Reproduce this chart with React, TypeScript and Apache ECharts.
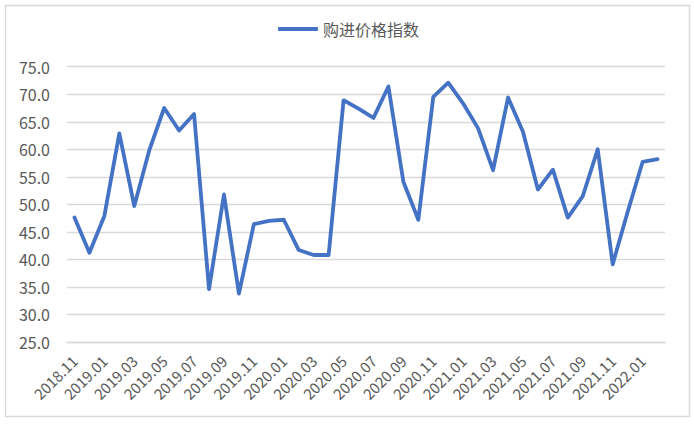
import React, { useEffect, useRef } from "react";
import * as echarts from "echarts";

const categories: string[] = [
  "2018.11", "2018.12",
  "2019.01", "2019.02", "2019.03", "2019.04", "2019.05", "2019.06",
  "2019.07", "2019.08", "2019.09", "2019.10", "2019.11", "2019.12",
  "2020.01", "2020.02", "2020.03", "2020.04", "2020.05", "2020.06",
  "2020.07", "2020.08", "2020.09", "2020.10", "2020.11", "2020.12",
  "2021.01", "2021.02", "2021.03", "2021.04", "2021.05", "2021.06",
  "2021.07", "2021.08", "2021.09", "2021.10", "2021.11", "2021.12",
  "2022.01", "2022.02",
];

const purchasePriceIndex: number[] = [
  47.6, 41.2, 47.9, 62.9, 49.7, 59.8, 67.5, 63.4, 66.4, 34.6,
  51.8, 33.8, 46.4, 47.0, 47.2, 41.7, 40.8, 40.8, 68.9, 67.4,
  65.7, 71.4, 54.1, 47.2, 69.5, 72.1, 68.3, 63.8, 56.2, 69.4,
  63.2, 52.7, 56.3, 47.6, 51.5, 60.0, 39.1, 48.6, 57.7, 58.2,
];

const seriesName = "购进价格指数";
const yMin = 25;
const yMax = 75;
const yStep = 5;

const FONT = "'Noto Sans CJK SC', 'Noto Sans', sans-serif";

export default function App() {
  const ref = useRef<HTMLDivElement>(null);
  useEffect(() => {
    if (!ref.current) return;
    const chart = echarts.init(ref.current, undefined, { renderer: "svg" });
    chart.setOption({
      animation: false,
      backgroundColor: "#ffffff",
      textStyle: { fontFamily: FONT },
      graphic: [
        {
          type: "rect",
          shape: { x: 5.5, y: 5.5, width: 684, height: 411 },
          style: { fill: "none", stroke: "#d9d9d9", lineWidth: 1.5 },
          silent: true,
        },
      ],
      legend: {
        top: 16,
        left: 273,
        data: [seriesName],
        icon: "roundRect",
        itemWidth: 40,
        itemHeight: 4,
        itemGap: 4,
        textStyle: { color: "#595959", fontSize: 16, fontFamily: FONT },
      },
      grid: { left: 67, right: 29, top: 66.7, bottom: 82, containLabel: false },
      xAxis: {
        type: "category",
        data: categories,
        boundaryGap: true,
        axisLine: { show: true, lineStyle: { color: "#d9d9d9", width: 1.3 } },
        axisTick: { show: false },
        axisLabel: {
          interval: 1,
          rotate: 45,
          margin: 16,
          color: "#595959",
          fontSize: 15,
          fontFamily: FONT,
        },
      },
      yAxis: {
        type: "value",
        min: yMin,
        max: yMax,
        interval: yStep,
        axisLine: { show: false },
        axisTick: { show: false },
        axisLabel: {
          margin: 17,
          color: "#595959",
          fontSize: 16,
          fontFamily: FONT,
          formatter: (v: number) => v.toFixed(1),
        },
        splitLine: { lineStyle: { color: "#d9d9d9", width: 1.3 } },
      },
      series: [
        {
          name: seriesName,
          type: "line",
          data: purchasePriceIndex,
          symbol: "none",
          lineStyle: { color: "#4472C4", width: 3.8, cap: "round", join: "round" },
          itemStyle: { color: "#4472C4" },
        },
      ],
    });
    return () => chart.dispose();
  }, []);
  return (
    <div
      ref={ref}
      style={{ position: "fixed", left: 0, top: 0, width: 694, height: 424 }}
    />
  );
}
